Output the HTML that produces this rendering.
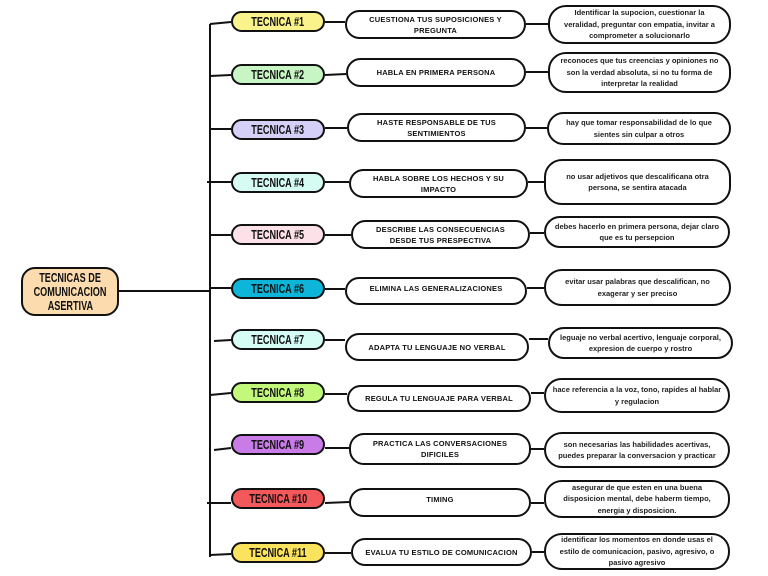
<!DOCTYPE html>
<html><head><meta charset="utf-8"><style>
body{margin:0;width:768px;height:576px;background:#fff;position:relative;overflow:hidden;font-family:"Liberation Sans",sans-serif;}
.b{position:absolute;box-sizing:border-box;border:2px solid #111;display:flex;align-items:center;justify-content:center;text-align:center;color:#111;}
.t{border-radius:12px;font-size:13px;font-weight:bold;width:94px;height:21px;left:231px;}
.t span,.c span{display:inline-block;transform:scaleX(0.7);white-space:nowrap}
.m{border-radius:15px;background:#fff;font-weight:bold;font-size:7.5px;line-height:11px;padding:0 10px;letter-spacing:.2px;}
.r{border-radius:18px;background:#fff;font-size:7.5px;line-height:11.5px;padding:0 6px;font-weight:bold;color:#222;}
svg{position:absolute;left:0;top:0}
</style></head><body>
<svg width="768" height="576"><g stroke="#111" stroke-width="2" fill="none">
<line x1="210" y1="24" x2="210" y2="557"/>
<line x1="118" y1="291" x2="210" y2="291"/>
<line x1="210" y1="24" x2="231" y2="22"/><line x1="325" y1="22" x2="345" y2="22"/><line x1="526" y1="24" x2="548" y2="24"/>
<line x1="210" y1="76" x2="231" y2="75"/><line x1="325" y1="75" x2="346" y2="74"/><line x1="526" y1="72" x2="548" y2="72"/>
<line x1="210" y1="129" x2="231" y2="129"/><line x1="325" y1="128" x2="347" y2="128"/><line x1="526" y1="128" x2="547" y2="128"/>
<line x1="207" y1="182" x2="231" y2="182"/><line x1="325" y1="182" x2="349" y2="182"/><line x1="528" y1="182" x2="544" y2="182"/>
<line x1="210" y1="235" x2="231" y2="235"/><line x1="325" y1="235" x2="351" y2="235"/><line x1="530" y1="233" x2="544" y2="233"/>
<line x1="210" y1="288" x2="231" y2="288"/><line x1="325" y1="289" x2="345" y2="289"/><line x1="527" y1="288" x2="544" y2="288"/>
<line x1="214" y1="341" x2="231" y2="340"/><line x1="325" y1="340" x2="345" y2="340"/><line x1="529" y1="339" x2="548" y2="339"/>
<line x1="210" y1="395" x2="231" y2="393"/><line x1="325" y1="394" x2="347" y2="394"/><line x1="531" y1="393" x2="544" y2="393"/>
<line x1="214" y1="450" x2="231" y2="448"/><line x1="325" y1="448" x2="349" y2="448"/><line x1="531" y1="449" x2="544" y2="449"/>
<line x1="207" y1="503" x2="231" y2="503"/><line x1="325" y1="503" x2="349" y2="502"/><line x1="531" y1="503" x2="544" y2="503"/>
<line x1="210" y1="555" x2="231" y2="554"/><line x1="325" y1="553" x2="351" y2="553"/><line x1="532" y1="552" x2="544" y2="552"/>
</g></svg>
<div class="b c" style="left:21px;top:267px;width:98px;height:49px;border-radius:14px;background:#fcdcae;font-size:13px;font-weight:bold;line-height:14px;flex-direction:column"><span>TECNICAS DE</span><span>COMUNICACION</span><span>ASERTIVA</span></div>

<div class="b t" style="top:11px;background:#faf38c"><span>TECNICA #1</span></div>
<div class="b t" style="top:64px;background:#c8f5c4"><span>TECNICA #2</span></div>
<div class="b t" style="top:119px;background:#d4d0f7"><span>TECNICA #3</span></div>
<div class="b t" style="top:172px;background:#d6fbf2"><span>TECNICA #4</span></div>
<div class="b t" style="top:224px;background:#fde1e8"><span>TECNICA #5</span></div>
<div class="b t" style="top:278px;background:#0db6d9"><span>TECNICA #6</span></div>
<div class="b t" style="top:329px;background:#d6fcf6"><span>TECNICA #7</span></div>
<div class="b t" style="top:382px;background:#c2f97a"><span>TECNICA #8</span></div>
<div class="b t" style="top:434px;background:#c97be7"><span>TECNICA #9</span></div>
<div class="b t" style="top:488px;background:#f3585b"><span>TECNICA #10</span></div>
<div class="b t" style="top:542px;background:#fbe35d"><span>TECNICA #11</span></div>

<div class="b m" style="left:345px;top:10px;width:181px;height:29px">CUESTIONA TUS SUPOSICIONES Y PREGUNTA</div>
<div class="b m" style="left:346px;top:58px;width:180px;height:29px">HABLA EN PRIMERA PERSONA</div>
<div class="b m" style="left:347px;top:113px;width:179px;height:29px">HASTE RESPONSABLE DE TUS SENTIMIENTOS</div>
<div class="b m" style="left:349px;top:169px;width:179px;height:29px">HABLA SOBRE LOS HECHOS Y SU IMPACTO</div>
<div class="b m" style="left:351px;top:220px;width:179px;height:29px">DESCRIBE LAS CONSECUENCIAS DESDE TUS PRESPECTIVA</div>
<div class="b m" style="left:345px;top:277px;width:182px;height:28px;align-items:flex-start;padding-top:4px">ELIMINA LAS GENERALIZACIONES</div>
<div class="b m" style="left:345px;top:333px;width:184px;height:28px">ADAPTA TU LENGUAJE NO VERBAL</div>
<div class="b m" style="left:347px;top:385px;width:184px;height:27px">REGULA TU LENGUAJE PARA VERBAL</div>
<div class="b m" style="left:349px;top:433px;width:182px;height:32px">PRACTICA LAS CONVERSACIONES DIFICILES</div>
<div class="b m" style="left:349px;top:488px;width:182px;height:29px;align-items:flex-start;padding-top:4px">TIMING</div>
<div class="b m" style="left:351px;top:538px;width:181px;height:28px">EVALUA TU ESTILO DE COMUNICACION</div>

<div class="b r" style="left:548px;top:5px;width:183px;height:39px">Identificar la supocion, cuestionar la veralidad, preguntar con empatia, invitar a comprometer a solucionarlo</div>
<div class="b r" style="left:548px;top:52px;width:183px;height:41px">reconoces que tus creencias y opiniones no son la verdad absoluta, si no tu forma de interpretar la realidad</div>
<div class="b r" style="left:547px;top:112px;width:184px;height:33px">hay que tomar responsabilidad de lo que sientes sin culpar a otros</div>
<div class="b r" style="left:544px;top:159px;width:187px;height:46px">no usar adjetivos que descalificana otra persona, se sentira atacada</div>
<div class="b r" style="left:544px;top:216px;width:186px;height:32px">debes hacerlo en primera persona, dejar claro que es tu persepcion</div>
<div class="b r" style="left:544px;top:269px;width:187px;height:37px">evitar usar palabras que descalifican, no exagerar y ser preciso</div>
<div class="b r" style="left:548px;top:327px;width:185px;height:32px">leguaje no verbal acertivo, lenguaje corporal, expresion de cuerpo y rostro</div>
<div class="b r" style="left:544px;top:378px;width:186px;height:35px">hace referencia a la voz, tono, rapides al hablar y regulacion</div>
<div class="b r" style="left:544px;top:432px;width:186px;height:36px">son necesarias las habilidades acertivas, puedes preparar la conversacion y practicar</div>
<div class="b r" style="left:544px;top:480px;width:186px;height:38px">asegurar de que esten en una buena disposicion mental, debe haberm tiempo, energia y disposicion.</div>
<div class="b r" style="left:544px;top:533px;width:186px;height:37px">identificar los momentos en donde usas el estilo de comunicacion, pasivo, agresivo, o pasivo agresivo</div>
</body></html>
